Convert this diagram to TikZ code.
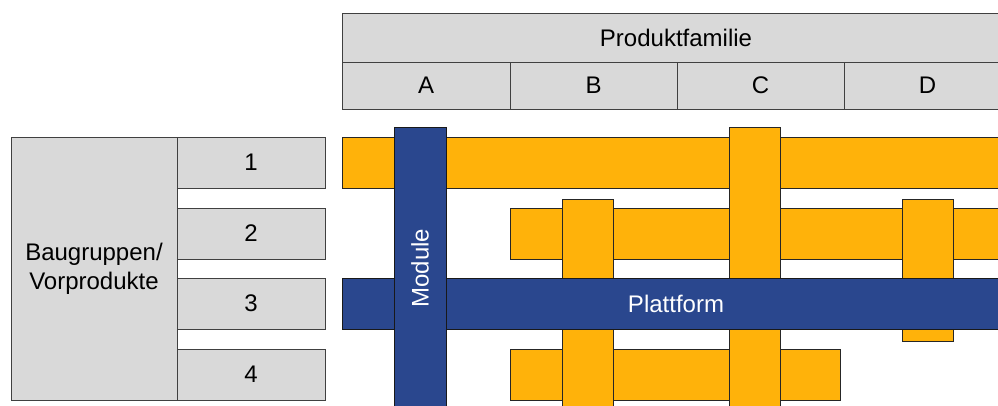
\documentclass[tikz,border=0pt]{standalone}
\usepackage{fontspec}
\setmainfont{Liberation Sans}
\definecolor{cellgray}{HTML}{D9D9D9}
\definecolor{barorange}{HTML}{FFB20A}
\definecolor{barblue}{HTML}{2A478E}
\begin{document}
\begin{tikzpicture}[x=1pt,y=-1pt,
  cell/.style={draw=black!75, line width=0.9pt, fill=cellgray, inner sep=0pt,
    font=\fontsize{24}{29}\selectfont, text=black},
  obar/.style={draw=black!85, line width=0.9pt, fill=barorange, inner sep=0pt},
  bbar/.style={draw=black!90, line width=0.9pt, fill=barblue, inner sep=0pt,
    font=\fontsize{24}{29}\selectfont, text=white}]
\useasboundingbox (0,0) rectangle (998,405);
\clip (0,0) rectangle (998,405);

% column header: product family and variants A-D
\node[cell, minimum width=668pt, minimum height=49pt] (fam) at (676,37.5) {Produktfamilie};
\node[cell, minimum width=168pt, minimum height=47pt] (colA) at (426,85.5) {A};
\node[cell, minimum width=167pt, minimum height=47pt] (colB) at (593.5,85.5) {B};
\node[cell, minimum width=167pt, minimum height=47pt] (colC) at (760.5,85.5) {C};
\node[cell, minimum width=167pt, minimum height=47pt] (colD) at (927.5,85.5) {D};

% row header: assemblies 1-4
\node[cell, minimum width=166pt, minimum height=263pt, align=center] (bg) at (94,268.5) {Baugruppen/\\Vorprodukte};
\node[cell, minimum width=148pt, minimum height=51pt] (r1) at (251,162.5) {1};
\node[cell, minimum width=148pt, minimum height=51pt] (r2) at (251,233.5) {2};
\node[cell, minimum width=148pt, minimum height=51pt] (r3) at (251,303.5) {3};
\node[cell, minimum width=148pt, minimum height=51pt] (r4) at (251,374.5) {4};

% horizontal assembly bars
\node[obar, minimum width=668pt, minimum height=51pt] (h1) at (676,162.5) {};
\node[obar, minimum width=500pt, minimum height=51pt] (h2) at (760,233.5) {};
\node[obar, minimum width=330pt, minimum height=51pt] (h4) at (675,374.5) {};

% vertical variant bars
\node[obar, minimum width=51pt, minimum height=221pt] (vB) at (587.5,309.5) {};
\node[obar, minimum width=51pt, minimum height=293pt] (vC) at (754.5,273.5) {};
\node[obar, minimum width=51pt, minimum height=142pt] (vD) at (927.5,270) {};

% platform and module
\node[bbar, minimum width=668pt, minimum height=51pt] (plat) at (676,303.5) {Plattform};
\node[bbar, rotate=90, minimum width=282pt, minimum height=52pt] (mod) at (420,268) {Module};
\end{tikzpicture}
\end{document}
